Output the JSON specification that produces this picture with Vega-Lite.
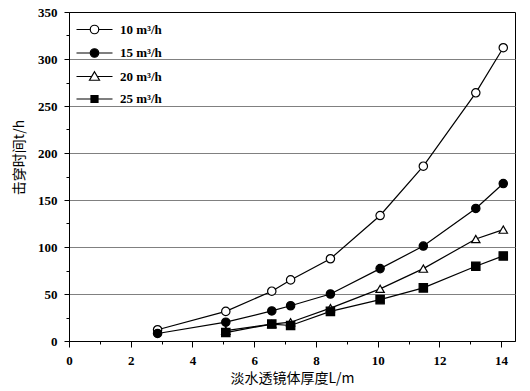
{
  "$schema": "https://vega.github.io/schema/vega-lite/v6.json",
  "autosize": {"type": "none"},
  "padding": {"left": 69, "top": 12, "right": 15, "bottom": 50},
  "width": 446,
  "height": 329,
  "background": "white",
  "config": {
    "view": {"stroke": "black", "strokeWidth": 1},
    "axis": {
      "domainColor": "black", "tickColor": "black", "labelColor": "black", "titleColor": "black",
      "labelFont": "Liberation Serif", "labelFontSize": 13, "labelFontWeight": "bold",
      "titleFont": "Noto Sans CJK SC", "titleFontSize": 14, "titleFontWeight": "normal"
    }
  },
  "data": {"values": [
    {"series": "10 m³/h", "L": 2.87, "t": 12},
    {"series": "10 m³/h", "L": 5.08, "t": 31.5},
    {"series": "10 m³/h", "L": 6.57, "t": 53},
    {"series": "10 m³/h", "L": 7.18, "t": 65},
    {"series": "10 m³/h", "L": 8.47, "t": 87.5},
    {"series": "10 m³/h", "L": 10.08, "t": 133.5},
    {"series": "10 m³/h", "L": 11.48, "t": 186},
    {"series": "10 m³/h", "L": 13.18, "t": 264},
    {"series": "10 m³/h", "L": 14.07, "t": 312},
    {"series": "15 m³/h", "L": 2.87, "t": 8},
    {"series": "15 m³/h", "L": 5.08, "t": 20},
    {"series": "15 m³/h", "L": 6.57, "t": 32},
    {"series": "15 m³/h", "L": 7.18, "t": 37.5},
    {"series": "15 m³/h", "L": 8.47, "t": 50},
    {"series": "15 m³/h", "L": 10.08, "t": 77},
    {"series": "15 m³/h", "L": 11.48, "t": 101},
    {"series": "15 m³/h", "L": 13.18, "t": 141},
    {"series": "15 m³/h", "L": 14.07, "t": 167.5},
    {"series": "20 m³/h", "L": 5.08, "t": 11},
    {"series": "20 m³/h", "L": 6.57, "t": 18},
    {"series": "20 m³/h", "L": 7.18, "t": 20},
    {"series": "20 m³/h", "L": 8.47, "t": 35},
    {"series": "20 m³/h", "L": 10.08, "t": 55.5},
    {"series": "20 m³/h", "L": 11.48, "t": 77},
    {"series": "20 m³/h", "L": 13.18, "t": 108.5},
    {"series": "20 m³/h", "L": 14.07, "t": 118.5},
    {"series": "25 m³/h", "L": 5.08, "t": 9},
    {"series": "25 m³/h", "L": 6.57, "t": 18},
    {"series": "25 m³/h", "L": 7.18, "t": 16.5},
    {"series": "25 m³/h", "L": 8.47, "t": 31.5},
    {"series": "25 m³/h", "L": 10.08, "t": 44},
    {"series": "25 m³/h", "L": 11.48, "t": 56.5},
    {"series": "25 m³/h", "L": 13.18, "t": 79.5},
    {"series": "25 m³/h", "L": 14.07, "t": 90.5}
  ]},
  "encoding": {
    "x": {
      "field": "L", "type": "quantitative",
      "scale": {"domain": [0, 14.45], "nice": false, "zero": false},
      "axis": {
        "title": "淡水透镜体厚度L/m",
        "values": [0,1,2,3,4,5,6,7,8,9,10,11,12,13,14],
        "labelOpacity": {"condition": {"test": "datum.value % 2 !== 0", "value": 0}, "value": 1},
        "tickSize": {"condition": {"test": "datum.value % 2 !== 0", "value": 3}, "value": 6},
        "labelPadding": 7,
        "labelFont": "Liberation Serif", "labelFontSize": 13, "labelFontWeight": "bold",
        "labelFlush": false, "labelOverlap": false,
        "grid": false, "titlePadding": 4
      }
    },
    "y": {
      "field": "t", "type": "quantitative",
      "scale": {"domain": [0, 350], "nice": false},
      "axis": {
        "title": "击穿时间t/h",
        "values": [0,25,50,75,100,125,150,175,200,225,250,275,300,325,350],
        "labelOpacity": {"condition": {"test": "datum.value % 50 !== 0", "value": 0}, "value": 1},
        "tickSize": {"condition": {"test": "datum.value % 50 !== 0", "value": 3}, "value": 5},
        "labelPadding": 7,
        "labelFont": "Liberation Serif", "labelFontSize": 13, "labelFontWeight": "bold",
        "labelOverlap": false, "labelFlush": false,
        "grid": true,
        "gridColor": "#808080",
        "gridWidth": 1,
        "gridOpacity": {"condition": {"test": "datum.value % 50 === 0 && datum.value > 0 && datum.value < 350", "value": 1}, "value": 0},
        "titleX": -43,
        "titleY": 145
      }
    }
  },
  "layer": [
    {
      "mark": {"type": "line", "color": "black", "strokeWidth": 1.2},
      "encoding": {"detail": {"field": "series"}}
    },
    {
      "mark": {"type": "point", "filled": true, "stroke": "black", "strokeWidth": 1.2, "opacity": 1, "size": 70},
      "encoding": {
        "shape": {
          "field": "series", "type": "nominal",
          "scale": {"domain": ["10 m³/h", "15 m³/h", "20 m³/h", "25 m³/h"], "range": ["circle", "circle", "triangle-up", "square"]},
          "legend": null
        },
        "fill": {
          "field": "series", "type": "nominal",
          "scale": {"domain": ["10 m³/h", "15 m³/h", "20 m³/h", "25 m³/h"], "range": ["white", "black", "white", "black"]},
          "legend": null
        }
      }
    },
    {
      "transform": [{"filter": "false"}],
      "mark": {"type": "point", "filled": true, "stroke": "black", "strokeWidth": 1.2, "opacity": 1},
      "encoding": {
        "shape": {
          "field": "series", "type": "nominal",
          "scale": {"domain": ["10 m³/h", "15 m³/h", "20 m³/h", "25 m³/h"], "range": [
            "M-3.6,0L-0.85,0M0.85,0L3.6,0M-0.85,0A0.85,0.85,0,1,1,0.85,0A0.85,0.85,0,1,1,-0.85,0Z",
            "M-3.6,0L-0.85,0M0.85,0L3.6,0M-0.85,0A0.85,0.85,0,1,1,0.85,0A0.85,0.85,0,1,1,-0.85,0Z",
            "M-3.6,0L-0.6,0M0.6,0L3.6,0M0,-0.95L1,0.75L-1,0.75Z",
            "M-3.6,0L-0.7,0M0.7,0L3.6,0M-0.7,-0.7L0.7,-0.7L0.7,0.7L-0.7,0.7Z"
          ]},
          "legend": {
            "title": null,
            "orient": "none", "legendX": 19, "legendY": 11,
            "padding": 0,
            "symbolSize": 100,
            "symbolStrokeWidth": 1.2,
            "labelOffset": 19,
            "rowPadding": 8.5,
            "labelFont": "Liberation Serif", "labelFontSize": 13, "labelFontWeight": "bold", "labelColor": "black"
          }
        },
        "fill": {
          "field": "series", "type": "nominal",
          "scale": {"domain": ["10 m³/h", "15 m³/h", "20 m³/h", "25 m³/h"], "range": ["white", "black", "white", "black"]},
          "legend": null
        }
      }
    }
  ],
  "resolve": {"scale": {"shape": "independent", "fill": "independent"}}
}
